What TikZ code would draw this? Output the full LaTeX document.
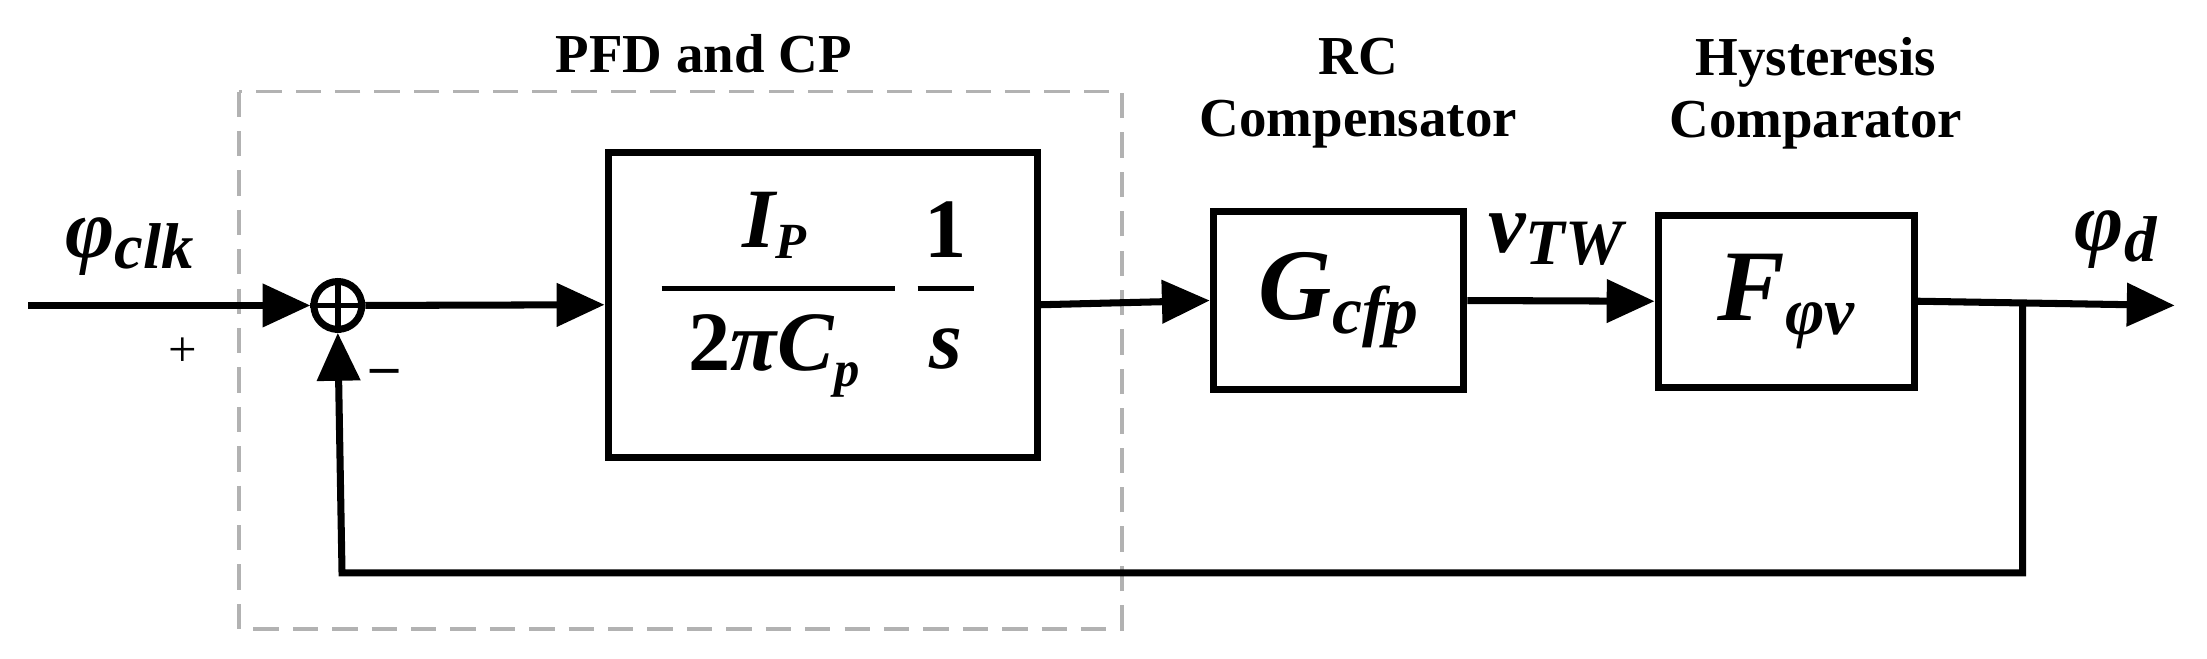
\documentclass[tikz,border=0pt]{standalone}
\usepackage{fontspec}
\setmainfont{Liberation Serif}
\usetikzlibrary{arrows.meta}
\begin{document}
\begin{tikzpicture}[x=0.5pt,y=-0.5pt,
  wire/.style={line width=2.5pt},
  arr/.style={wire,-{Triangle[length=17pt,width=15pt]}},
  blk/.style={draw,line width=2.5pt,rectangle,inner sep=0pt},
  lbl/.style={font=\bfseries\fontsize{19.5}{22}\selectfont,align=center},
  mt/.style={font=\bfseries\itshape\fontsize{30}{32}\selectfont,inner sep=0pt}]
\useasboundingbox (0,0) rectangle (1568,468);
\draw[gray!60,line width=1.3pt,dash pattern=on 9pt off 5pt] (170,65) rectangle (797,447);
\node[blk,minimum width=152.5pt,minimum height=108.5pt] (b1) at (584.5,216.5) {};
\node[blk,minimum width=89pt,minimum height=63.5pt] (b2) at (951,213.5) {};
\node[blk,minimum width=91pt,minimum height=61pt] (b3) at (1269,214) {};
\node[draw,circle,line width=2.5pt,minimum size=17pt,inner sep=0pt] (s) at (240,217) {};
\draw[line width=2pt] (s.north)--(s.south) (s.west)--(s.east);
\coordinate (in) at (20,217);
\coordinate (tap) at (1437,217);
\coordinate (out) at (1545,217);
\coordinate (fb1) at (1437,407);
\coordinate (fb2) at (243,407);
\draw[arr] (in) -- (s.west);
\draw[arr] (s.east) -- (b1.west);
\draw[arr] (b1.east) -- (b2.west);
\draw[arr] (b2.east) -- (b3.west);
\draw[arr] (b3.east) -- (out);
\draw[arr] (tap) -- (fb1) -- (fb2) -- (s.south);
% block1 content
\draw[line width=1.5pt] (470,205) -- (636,205) (652,205) -- (692,205);
\node[mt] (ip) at (550,160) {I\raisebox{-0.3ex}{\fontsize{18}{20}\selectfont P}};
\node[mt,font=\bfseries\fontsize{30}{32}\selectfont] (cp) at (550,253) {2\textit{πC}\raisebox{-0.4ex}{\fontsize{18}{20}\selectfont\itshape p}};
\node[mt,font=\bfseries\fontsize{30}{32}\selectfont] (one) at (672,163) {1};
\node[mt] (ss) at (672,248) {s};
\node[mt,font=\bfseries\itshape\fontsize{36}{38}\selectfont] at (b2) {G\raisebox{-0.3ex}{\fontsize{24}{26}\selectfont cfp}};
\node[mt,font=\bfseries\itshape\fontsize{36}{38}\selectfont] at (b3) {F\raisebox{-0.3ex}{\fontsize{24}{26}\selectfont φv}};
\node[mt] (phc) at (92,175) {φ\raisebox{-0.3ex}{\fontsize{23}{25}\selectfont clk}};
\node[mt] (vtw) at (1105,170) {v\raisebox{-0.3ex}{\fontsize{23}{25}\selectfont TW}};
\node[mt] (phd) at (1503,170) {φ\raisebox{-0.3ex}{\fontsize{23}{25}\selectfont d}};
\node[font=\fontsize{18}{18}\selectfont] (plus) at (130,250) {+};
\node[font=\bfseries\fontsize{20}{20}\selectfont] (minus) at (273,268) {--};
\node[lbl] (l1) at (500,38) {PFD and CP};
\node[lbl] (l2) at (965,66) {RC\\Compensator};
\node[lbl] (l3) at (1290,66) {Hysteresis\\Comparator};
\end{tikzpicture}
\end{document}
